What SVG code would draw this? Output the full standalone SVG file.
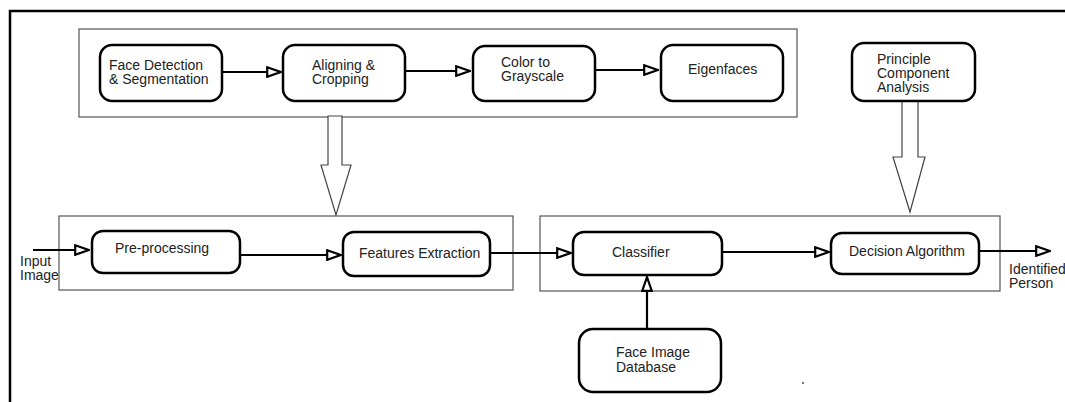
<svg xmlns="http://www.w3.org/2000/svg" width="1065" height="402" viewBox="0 0 1065 402">
  <style>
    .frame { fill: none; stroke: #000; stroke-width: 2.5; }
    .group { fill: none; stroke: #555; stroke-width: 1.2; }
    .node { fill: #fff; stroke: #000; stroke-width: 2.5; }
    .label { font-family: "Liberation Sans", Arial, sans-serif; font-size: 14px; fill: #222; }
    .edge { fill: none; stroke: #000; stroke-width: 2.2; marker-end: url(#head); }
    .bigarrow { fill: #fff; stroke: #444; stroke-width: 1.2; }
  </style>
  <defs>
    <marker id="head" viewBox="0 0 16 12" refX="15" refY="6" markerWidth="16" markerHeight="12" markerUnits="userSpaceOnUse" orient="auto">
      <path d="M1.2,1.2 L14.8,6 L1.2,10.8 Z" fill="#fff" stroke="#000" stroke-width="2.2"/>
    </marker>
  </defs>
  <rect width="1065" height="402" fill="#fff"/>

  <!-- outer frame: top and left borders -->
  <path class="frame" d="M10,402 V11 H1065"/>

  <!-- group boxes -->
  <g id="groups">
    <rect class="group" x="79" y="29" width="718" height="88"/>
    <rect class="group" x="59" y="216" width="454" height="74"/>
    <rect class="group" x="540" y="216" width="460" height="75"/>
  </g>

  <!-- wide hollow arrows -->
  <g id="flow-arrows">
    <path class="bigarrow" d="M328,116 H342 V165 H351 L336,215 L321,165 H328 Z"/>
    <path class="bigarrow" d="M902,101 H918 V157 H925 L910,212 L893,157 H902 Z"/>
  </g>

  <!-- connectors -->
  <g id="connectors">
    <path class="edge" d="M222,72 H281"/>
    <path class="edge" d="M405,71 H470"/>
    <path class="edge" d="M595,70 H658"/>
    <path class="edge" d="M33,250 H89"/>
    <path class="edge" d="M240,255 H341"/>
    <path class="edge" d="M490,253 H571"/>
    <path class="edge" d="M722,252 H829"/>
    <path class="edge" d="M979,251 H1050"/>
    <path class="edge" d="M647,329 V277"/>
  </g>

  <!-- nodes -->
  <g id="face-detection">
    <rect class="node" x="100" y="45" width="122" height="56" rx="12"/>
    <text class="label" x="109" y="70">Face Detection</text>
    <text class="label" x="109" y="84">&amp; Segmentation</text>
  </g>
  <g id="aligning">
    <rect class="node" x="283" y="45" width="122" height="56" rx="12"/>
    <text class="label" x="312" y="70">Aligning &amp;</text>
    <text class="label" x="312" y="84">Cropping</text>
  </g>
  <g id="grayscale">
    <rect class="node" x="473" y="46" width="122" height="55" rx="12"/>
    <text class="label" x="501" y="67">Color to</text>
    <text class="label" x="501" y="81">Grayscale</text>
  </g>
  <g id="eigenfaces">
    <rect class="node" x="661" y="45" width="122" height="56" rx="12"/>
    <text class="label" x="688" y="74">Eigenfaces</text>
  </g>
  <g id="pca">
    <rect class="node" x="852" y="43" width="123" height="58" rx="12"/>
    <text class="label" x="877" y="64">Principle</text>
    <text class="label" x="877" y="78">Component</text>
    <text class="label" x="877" y="92">Analysis</text>
  </g>
  <g id="preprocessing">
    <rect class="node" x="92" y="231" width="148" height="42" rx="11"/>
    <text class="label" x="115" y="253">Pre-processing</text>
  </g>
  <g id="features">
    <rect class="node" x="343" y="232" width="147" height="44" rx="11"/>
    <text class="label" x="359" y="258">Features Extraction</text>
  </g>
  <g id="classifier">
    <rect class="node" x="573" y="232" width="149" height="43" rx="11"/>
    <text class="label" x="612" y="257">Classifier</text>
  </g>
  <g id="decision">
    <rect class="node" x="831" y="233" width="148" height="41" rx="11"/>
    <text class="label" x="849" y="256">Decision Algorithm</text>
  </g>
  <g id="database">
    <rect class="node" x="579" y="329" width="142" height="63" rx="14"/>
    <text class="label" x="616" y="357">Face Image</text>
    <text class="label" x="616" y="372">Database</text>
  </g>

  <!-- terminal labels -->
  <g id="input-label">
    <text class="label" x="20" y="266">Input</text>
    <text class="label" x="20" y="280">Image</text>
  </g>
  <g id="output-label">
    <text class="label" x="1009" y="274">Identified</text>
    <text class="label" x="1009" y="288">Person</text>
  </g>

  <circle cx="803" cy="383" r="0.9" fill="#333"/>
</svg>
